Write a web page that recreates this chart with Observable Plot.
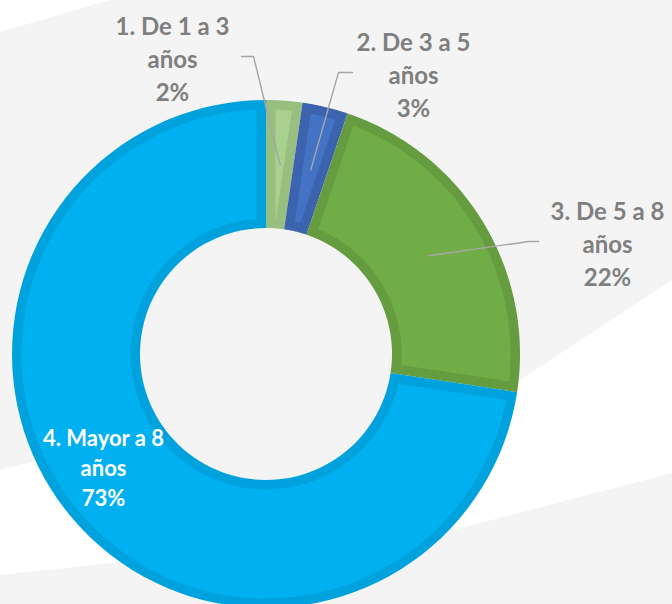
<!DOCTYPE html>
<html>
<head>
<meta charset="utf-8">
<script src="https://cdn.jsdelivr.net/npm/d3@7"></script>
<script src="https://cdn.jsdelivr.net/npm/@observablehq/plot@0.6"></script>
<style>
  html, body { margin: 0; padding: 0; }
  body { width: 672px; height: 604px; overflow: hidden; background: #f4f4f4; position: relative; font-family: Lato, sans-serif; }
  .band { position: absolute; left: 0; top: 0; width: 672px; height: 604px; background: #ffffff; }
  .b1 { clip-path: polygon(520px 380px, 672px 280px, 672px 473px, 453px 530px); }
  .b2 { clip-path: polygon(0px 470px, 120px 440px, 140px 560px, 0px 575px); }
  .b3 { clip-path: polygon(0px 0px, 110px 0px, 0px 32px); }
  #chart { position: absolute; left: 0; top: 0; }
</style>
</head>
<body>
<div class="band b1"></div>
<div class="band b2"></div>
<div class="band b3"></div>
<div id="chart"></div>
<script>
// ---- data ----
const categories = ["1. De 1 a 3 años", "2. De 3 a 5 años", "3. De 5 a 8 años", "4. Mayor a 8 años"];
const labelLines = [["1. De 1 a 3", "años"], ["2. De 3 a 5", "años"], ["3. De 5 a 8", "años"], ["4. Mayor a 8", "años"]];
const shares = [2.3, 2.9, 22.2, 72.6];
const percentLabels = ["2%", "3%", "22%", "73%"];

// ---- styles / layout ----
const fillColors = ["#a9d18e", "#4472c4", "#70ad47", "#00b0f0"];
const borderColors = ["#99bf80", "#3b63ae", "#659c40", "#00a2dd"];
const CX = 266, CY = 354, RPX = 254;           // donut centre and outer radius (px)
const innerFrac = 126 / 254;                    // hole radius relative to outer
const borderFrac = 9.5 / 254;                   // border width relative to outer
const labelPos = [[172, 57], [413, 73], [607, 242], [103, 466]]; // label centres (px)
const leaderLayout = [[241, 253, 56], [352, 338, 72], [538, 528, 241], null]; // [endX, bendX, y] (px)

const ux = p => (p - CX) / RPX;
const uy = p => (CY - p) / RPX;

const total = d3.sum(shares);
const starts = [];
{ let c = 0; for (const s of shares) { starts.push(c / total * 2 * Math.PI); c += s; } }

function sectorRows(i, inset, colors) {
  const t0 = starts[i], t1 = starts[i] + shares[i] / total * 2 * Math.PI;
  const R = 1 - inset, r = innerFrac + inset;
  let ao = inset ? Math.asin(inset / R) : 0;
  let ai = inset ? Math.asin(inset / r) : 0;
  const half = (t1 - t0) / 2;
  ao = Math.min(ao, half); ai = Math.min(ai, half);
  const n = 90, rows = [];
  for (let k = 0; k <= n; k++) {
    const t = k / n;
    const a1 = (t0 + ao) + t * ((t1 - ao) - (t0 + ao));
    const a2 = (t0 + ai) + t * ((t1 - ai) - (t0 + ai));
    rows.push({
      slice: categories[i], color: colors[i],
      x1: R * Math.sin(a1), y1: R * Math.cos(a1),
      x2: r * Math.sin(a2), y2: r * Math.cos(a2)
    });
  }
  return rows;
}

const outerRows = shares.flatMap((_, i) => sectorRows(i, 0, borderColors));
const innerRows = shares.flatMap((_, i) => sectorRows(i, borderFrac, fillColors));

const leaderRows = [];
shares.forEach((s, i) => {
  const L = leaderLayout[i];
  if (!L) return;
  const mid = starts[i] + s / total * Math.PI;
  const rm = (1 + innerFrac) / 2;
  leaderRows.push({ slice: categories[i], x: rm * Math.sin(mid), y: rm * Math.cos(mid) });
  leaderRows.push({ slice: categories[i], x: ux(L[1]), y: uy(L[2]) });
  leaderRows.push({ slice: categories[i], x: ux(L[0]), y: uy(L[2]) });
});

const labelRows = shares.map((s, i) => ({
  text: labelLines[i].join("\n") + "\n" + percentLabels[i],
  x: ux(labelPos[i][0]), y: uy(labelPos[i][1])
}));

const chart = Plot.plot({
  width: 672, height: 604, margin: 0,
  x: { domain: [ux(0), ux(672)], range: [0, 672], axis: null },
  y: { domain: [uy(604), uy(0)], range: [604, 0], axis: null },
  color: { type: "identity" },
  style: { background: "transparent", overflow: "visible" },
  marks: [
    Plot.area(outerRows, { x1: "x1", y1: "y1", x2: "x2", y2: "y2", z: "slice", fill: "color" }),
    Plot.area(innerRows, { x1: "x1", y1: "y1", x2: "x2", y2: "y2", z: "slice", fill: "color" }),
    Plot.line(leaderRows, { x: "x", y: "y", z: "slice", stroke: "#a6a6a6", strokeWidth: 1.4 }),
    Plot.text(labelRows.slice(0, 3), {
      x: "x", y: "y", text: "text", fill: "#7f7f7f", fontSize: 24, fontWeight: "bold",
      fontFamily: "Lato", lineHeight: 1.38, textAnchor: "middle"
    }),
    Plot.text(labelRows.slice(3), {
      x: "x", y: "y", text: "text", fill: "#ffffff", fontSize: 22, fontWeight: "bold",
      fontFamily: "Lato", lineHeight: 1.36, textAnchor: "middle"
    })
  ]
});
document.getElementById("chart").appendChild(chart);
</script>
</body>
</html>
